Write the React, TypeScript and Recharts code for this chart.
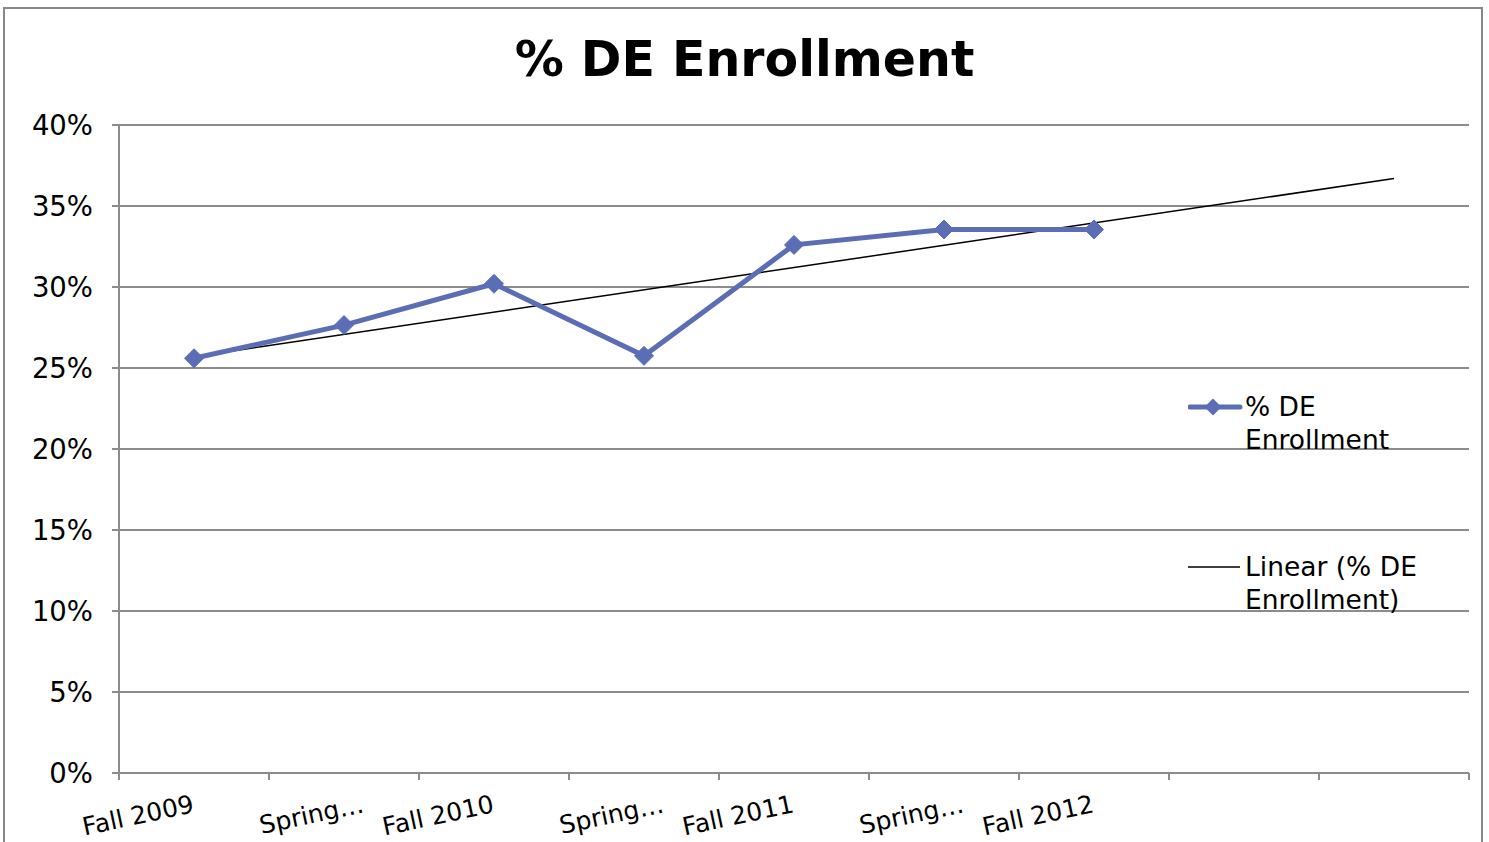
import React from "react"
import { ComposedChart, Line, XAxis, YAxis, CartesianGrid } from "recharts"

// categories on the x axis (the last two are empty periods the trendline runs into)
const categories = ["Fall 2009", "Spring 2010", "Fall 2010", "Spring 2011", "Fall 2011", "Spring 2012", "Fall 2012", "", ""]
const tickLabels = ["Fall 2009", "Spring…", "Fall 2010", "Spring…", "Fall 2011", "Spring…", "Fall 2012", "", ""]

// % DE Enrollment
const deEnrollment = [25.6, 27.65, 30.2, 25.75, 32.6, 33.55, 33.55]

// linear trendline end points (first and last category)
const trendStart = 25.7
const trendEnd = 36.7

const yTicks = [0, 5, 10, 15, 20, 25, 30, 35, 40]

const FONT = "'DejaVu Sans', Verdana, sans-serif"
const BLUE = "#5b6db5"
const GRID = "#8c8c8c"

const data = categories.map((name, i) => ({
    x: i + 0.5,
    name,
    pct: i < deEnrollment.length ? deEnrollment[i] : null,
    trend: i === 0 ? trendStart : i === categories.length - 1 ? trendEnd : null,
}))

// integers are the boundaries between categories (tick marks), halves are the label spots
const xTicks: number[] = []
for (let i = 0; i <= categories.length * 2; i++) xTicks.push(i / 2)

function XTick(props: any) {
    const { x, y, payload } = props
    const v = payload.value as number
    if (Number.isInteger(v)) {
        return <line x1={x} y1={y} x2={x} y2={y + 7} stroke={GRID} strokeWidth={2} />
    }
    const label = tickLabels[Math.floor(v)]
    if (!label) return <g />
    // truncated labels sit a bit further right in the original
    const tx = label.endsWith("…") ? x + 21 : x + 1
    const ty = y + 39
    return (
        <text
            x={tx}
            y={ty}
            textAnchor="end"
            fontSize={25}
            fontFamily={FONT}
            fill="#000"
            transform={`rotate(-12, ${tx}, ${ty})`}
        >
            {label}
        </text>
    )
}

function Diamond(props: any) {
    const { cx, cy, index } = props
    if (cx == null || cy == null) return <g key={`d-${index}`} />
    const r = 9.5
    return (
        <path
            key={`d-${index}`}
            d={`M${cx},${cy - r} L${cx + r},${cy} L${cx},${cy + r} L${cx - r},${cy} Z`}
            fill={BLUE}
            stroke={BLUE}
        />
    )
}

export default function App() {
    return (
        <div
            style={{
                position: "absolute",
                left: 0,
                top: 0,
                width: 1489,
                height: 842,
                overflow: "hidden",
                background: "#fff",
                fontFamily: FONT,
            }}
        >
            <div
                style={{
                    position: "absolute",
                    left: 3,
                    top: 7,
                    width: 1480,
                    height: 900,
                    border: "2px solid #888",
                    boxSizing: "border-box",
                }}
            />
            <div
                style={{
                    position: "absolute",
                    left: 0,
                    top: 31,
                    width: 1489,
                    textAlign: "center",
                    fontSize: 49,
                    fontWeight: "bold",
                    lineHeight: "normal",
                }}
            >
                % DE Enrollment
            </div>

            <div style={{ position: "absolute", left: 0, top: 0 }}>
                <ComposedChart width={1489} height={842} data={data} margin={{ top: 125, right: 20, bottom: 39, left: 0 }}>
                    <CartesianGrid vertical={false} stroke={GRID} strokeWidth={2} />
                    <XAxis
                        dataKey="x"
                        type="number"
                        domain={[0, categories.length]}
                        ticks={xTicks}
                        interval={0}
                        height={30}
                        tickSize={0}
                        tickMargin={0}
                        tickLine={false}
                        axisLine={{ stroke: GRID, strokeWidth: 2 }}
                        tick={<XTick />}
                    />
                    <YAxis
                        type="number"
                        domain={[0, 40]}
                        ticks={yTicks}
                        interval={0}
                        width={119}
                        tickSize={7}
                        tickMargin={19}
                        tickFormatter={(v: number) => `${v}%`}
                        tick={{ fill: "#000", fontSize: 27.5, fontFamily: FONT }}
                        tickLine={{ stroke: GRID, strokeWidth: 2 }}
                        axisLine={{ stroke: GRID, strokeWidth: 2 }}
                    />
                    <Line
                        dataKey="trend"
                        type="linear"
                        stroke="#000"
                        strokeWidth={1.5}
                        dot={false}
                        activeDot={false}
                        connectNulls
                        isAnimationActive={false}
                    />
                    <Line
                        dataKey="pct"
                        type="linear"
                        stroke={BLUE}
                        strokeWidth={5}
                        dot={<Diamond />}
                        activeDot={false}
                        isAnimationActive={false}
                    />
                </ComposedChart>
            </div>

            {/* legend */}
            <div style={{ position: "absolute", left: 1188, top: 390, fontSize: 26.5, lineHeight: "33px" }}>
                <svg width={56} height={33} style={{ position: "absolute", left: 0, top: 0 }}>
                    <line x1={2} y1={17} x2={52} y2={17} stroke={BLUE} strokeWidth={5} strokeLinecap="round" />
                    <path d="M25,8.5 L33.5,17 L25,25.5 L16.5,17 Z" fill={BLUE} />
                </svg>
                <div style={{ marginLeft: 57 }}>
                    % DE
                    <br />
                    Enrollment
                </div>
            </div>
            <div style={{ position: "absolute", left: 1188, top: 550, fontSize: 26.5, lineHeight: "33px" }}>
                <svg width={56} height={33} style={{ position: "absolute", left: 0, top: 0 }}>
                    <line x1={0} y1={17} x2={52} y2={17} stroke="#000" strokeWidth={1.5} />
                </svg>
                <div style={{ marginLeft: 57, whiteSpace: "nowrap" }}>
                    Linear (% DE
                    <br />
                    Enrollment)
                </div>
            </div>
        </div>
    )
}
